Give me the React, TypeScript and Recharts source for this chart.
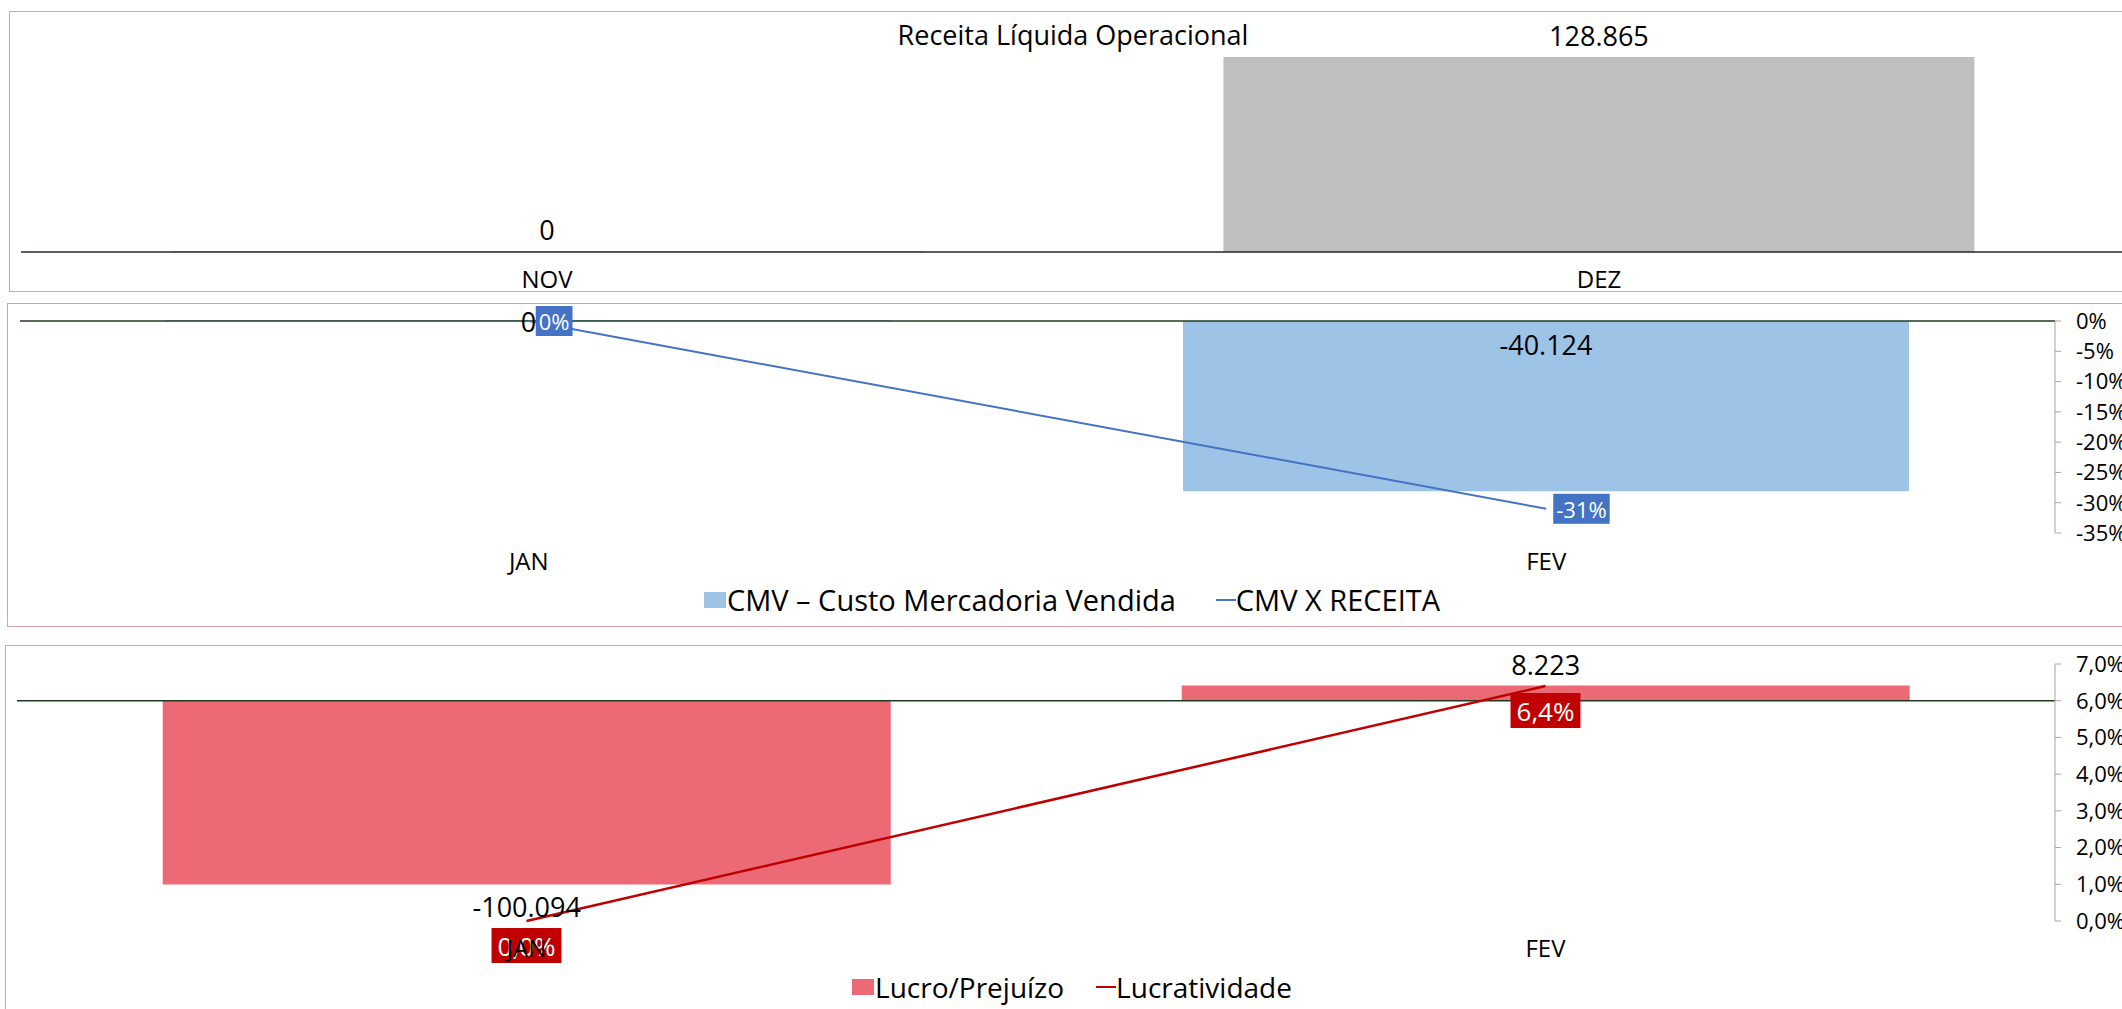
import { ComposedChart, Bar, Line, XAxis, YAxis, ReferenceLine, LabelList } from "recharts";

const FONT = '"Open Sans", sans-serif';

// Receita Líquida Operacional
const receitaMeses = ["NOV", "DEZ"];
const receitaValores = [0, 128865];

// CMV
const cmvMeses = ["JAN", "FEV"];
const cmvValores = [0, -40124];
const cmvPercentual = [0, -0.31];
const cmvTicks = [0, -0.05, -0.1, -0.15, -0.2, -0.25, -0.3, -0.35];

// Lucro / Prejuízo
const lucroMeses = ["JAN", "FEV"];
const lucroValores = [-100094, 8223];
const lucratividade = [0, 0.064];
const lucroTicks = [0, 0.01, 0.02, 0.03, 0.04, 0.05, 0.06, 0.07];

const receitaData = receitaMeses.map((mes, i) => ({ mes, valor: receitaValores[i] }));
const cmvData = cmvMeses.map((mes, i) => ({ mes, valor: cmvValores[i], pct: cmvPercentual[i] }));
const lucroData = lucroMeses.map((mes, i) => ({ mes, valor: lucroValores[i], pct: lucratividade[i] }));

const fmtNum = (v: number) => {
  const s = String(Math.abs(Math.round(v))).replace(/\B(?=(\d{3})+(?!\d))/g, ".");
  return v < 0 ? "-" + s : s;
};
const fmtPct0 = (v: number) => `${Math.round(v * 100)}%`;
const fmtPct1 = (v: number) => `${(v * 100).toFixed(1).replace(".", ",")}%`;

let ctx: CanvasRenderingContext2D | null = null;
function textWidth(s: string, size: number) {
  if (!ctx) ctx = document.createElement("canvas").getContext("2d");
  if (!ctx) return s.length * size * 0.55;
  ctx.font = `${size}px "Open Sans"`;
  return ctx.measureText(s).width;
}

function box(props: any) {
  const vb = props.viewBox ?? {};
  const x = Number(vb.x ?? props.x ?? 0);
  const y = Number(vb.y ?? props.y ?? 0);
  const w = Number(vb.width ?? props.width ?? 0);
  const h = Number(vb.height ?? props.height ?? 0);
  return { x, y, w, h, top: Math.min(y, y + h), bottom: Math.max(y, y + h) };
}

const LABEL_SIZE = 27;

// label inside the bar, near the zero line
function CmvBarLabel(props: any) {
  const b = box(props);
  const v = Number(props.value);
  const hh = b.bottom - b.top;
  const y = v === 0 ? b.bottom : b.top + Math.min(23, hh / 2);
  return (
    <text x={b.x + b.w / 2} y={y} textAnchor="middle" dominantBaseline="central"
      fontSize={LABEL_SIZE} fontFamily={FONT} fill="#000">
      {fmtNum(v)}
    </text>
  );
}

// label outside the bar end
function LucroBarLabel(props: any) {
  const b = box(props);
  const v = Number(props.value);
  const y = v >= 0 ? b.top - 11 : b.bottom + 33;
  return (
    <text x={b.x + b.w / 2} y={y} textAnchor="middle" fontSize={LABEL_SIZE} fontFamily={FONT} fill="#000">
      {fmtNum(v)}
    </text>
  );
}

function makeBoxLabel(fill: string, side: "right" | "below", size: number, pad: number, fmt: (v: number) => string) {
  return (props: any) => {
    const b = box(props);
    const s = fmt(Number(props.value));
    const w = textWidth(s, size) + pad;
    const h = side === "right" ? 30 : 35;
    const bx = side === "right" ? b.x + 7 : b.x - w / 2;
    const by = side === "right" ? b.y - h / 2 : b.y + 7;
    return (
      <g>
        <rect x={bx} y={by} width={w} height={h} fill={fill} />
        <text x={bx + w / 2} y={by + h / 2} textAnchor="middle" dominantBaseline="central"
          fontSize={size} fontFamily={FONT} fill="#fff">
          {s}
        </text>
      </g>
    );
  };
}

const CmvLineLabel = makeBoxLabel("#4472C4", "right", 22, 6, fmtPct0);
const LucroLineLabel = makeBoxLabel("#C00000", "below", 26, 12, fmtPct1);

const tickStyle = { fontSize: 22, fontFamily: FONT, fill: "#000" };
const catStyle = { fontSize: 24, fontFamily: FONT, fill: "#000" };
const borderColor = "#D9A0A6";

function LegendRow({ top, items, gap, size }: { top: number; items: { name: string; color: string; kind: "bar" | "line" }[]; gap: number; size: number }) {
  return (
    <div style={{ position: "absolute", left: 0, width: 2144, top, height: 36, display: "flex", justifyContent: "center", alignItems: "center", fontFamily: FONT, fontSize: size, lineHeight: "36px", color: "#000" }}>
      {items.map((it, i) => (
        <div key={it.name} style={{ display: "flex", alignItems: "center", marginLeft: i > 0 ? gap : 0 }}>
          {it.kind === "bar" ? (
            <div style={{ width: 22, height: 16, background: it.color, marginRight: 1 }} />
          ) : (
            <div style={{ width: 20, height: 2, background: it.color }} />
          )}
          <span>{it.name}</span>
        </div>
      ))}
    </div>
  );
}

export default function App() {
  return (
    <div style={{ position: "absolute", left: 0, top: 0, width: 2122, height: 1009, overflow: "hidden", background: "#fff", fontFamily: FONT }}>
      {/* panel borders */}
      <div style={{ position: "absolute", left: 9, top: 11, width: 2200, height: 279, border: `1.5px solid ${borderColor}` }} />
      <div style={{ position: "absolute", left: 7, top: 303, width: 2200, height: 322, border: `1.5px solid ${borderColor}` }} />
      <div style={{ position: "absolute", left: 5, top: 645, width: 2200, height: 400, border: `1.5px solid ${borderColor}` }} />

      {/* Receita Líquida Operacional */}
      <div style={{ position: "absolute", left: 0, top: 17, width: 2146, textAlign: "center", fontSize: 27, lineHeight: "36px", color: "#000" }}>
        Receita Líquida Operacional
      </div>
      <div style={{ position: "absolute", left: 0, top: 0 }}>
        <ComposedChart width={2200} height={300} data={receitaData} margin={{ top: 57, right: 75, bottom: 8, left: 21 }} barCategoryGap="14.3%">
          <YAxis yAxisId="left" hide domain={[0, "dataMax"]} />
          <Bar yAxisId="left" dataKey="valor" fill="#BFBFBF" minPointSize={1} isAnimationActive={false}>
            <LabelList dataKey="valor" position="top" offset={11} formatter={(v: any) => fmtNum(Number(v))}
              style={{ fontSize: LABEL_SIZE, fontFamily: FONT, fill: "#000" }} />
          </Bar>
          <XAxis dataKey="mes" axisLine={{ stroke: "#1F2A1F", strokeWidth: 1.5 }} tickLine={false} tickMargin={13} height={40} tick={catStyle} />
        </ComposedChart>
      </div>

      {/* CMV */}
      <div style={{ position: "absolute", left: 0, top: 303 }}>
        <ComposedChart width={2122} height={323} data={cmvData} margin={{ top: 18, right: 0, bottom: 53, left: 20 }} barCategoryGap="14.3%">
          <YAxis yAxisId="left" hide domain={[-50000, 0]} />
          <YAxis yAxisId="right" orientation="right" width={67} domain={[-0.35, 0]} ticks={cmvTicks}
            tickFormatter={fmtPct0} axisLine={{ stroke: "#A6A6A6" }} tickLine={{ stroke: "#A6A6A6" }}
            tickSize={6} tickMargin={15} tick={tickStyle} interval={0} />
          <ReferenceLine yAxisId="left" y={0} stroke="#1F3A1F" strokeWidth={1.5} />
          <Bar yAxisId="left" dataKey="valor" fill="#9DC3E6" minPointSize={1} isAnimationActive={false}>
            <LabelList dataKey="valor" content={CmvBarLabel} />
          </Bar>
          <Line yAxisId="right" type="linear" dataKey="pct" stroke="#4472C4" strokeWidth={2} dot={false} activeDot={false} isAnimationActive={false}>
            <LabelList dataKey="pct" content={CmvLineLabel} />
          </Line>
          <XAxis dataKey="mes" axisLine={false} tickLine={false} tickMargin={14} height={40} tick={catStyle} />
        </ComposedChart>
      </div>
      <LegendRow top={582} gap={40} size={29} items={[
        { name: "CMV – Custo Mercadoria Vendida", color: "#9DC3E6", kind: "bar" },
        { name: "CMV X RECEITA", color: "#4472C4", kind: "line" },
      ]} />

      {/* Lucro / Prejuízo */}
      <div style={{ position: "absolute", left: 0, top: 645 }}>
        <ComposedChart width={2122} height={364} data={lucroData} margin={{ top: 19, right: 0, bottom: 48, left: 17 }} barCategoryGap="14.3%">
          <YAxis yAxisId="left" hide domain={[-120000, 20000]} />
          <YAxis yAxisId="right" orientation="right" width={67} domain={[0, 0.07]} ticks={lucroTicks}
            tickFormatter={fmtPct1} axisLine={{ stroke: "#A6A6A6" }} tickLine={{ stroke: "#A6A6A6" }}
            tickSize={6} tickMargin={15} tick={tickStyle} interval={0} />
          <ReferenceLine yAxisId="left" y={0} stroke="#1F3A1F" strokeWidth={1.5} />
          <Bar yAxisId="left" dataKey="valor" fill="#EC6A76" isAnimationActive={false}>
            <LabelList dataKey="valor" content={LucroBarLabel} />
          </Bar>
          <Line yAxisId="right" type="linear" dataKey="pct" stroke="#C00000" strokeWidth={2.5} dot={false} activeDot={false} isAnimationActive={false}>
            <LabelList dataKey="pct" content={LucroLineLabel} />
          </Line>
          <XAxis dataKey="mes" axisLine={false} tickLine={false} tickMargin={13} height={40} tick={catStyle} />
        </ComposedChart>
      </div>
      <LegendRow top={969} gap={32} size={28} items={[
        { name: "Lucro/Prejuízo", color: "#EC6A76", kind: "bar" },
        { name: "Lucratividade", color: "#C00000", kind: "line" },
      ]} />
    </div>
  );
}
